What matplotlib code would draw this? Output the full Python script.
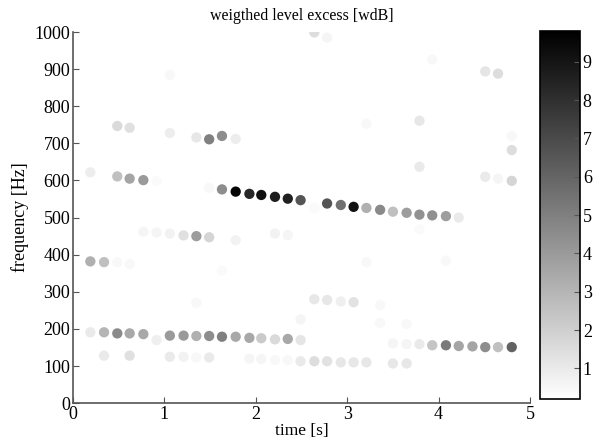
import numpy as np
import matplotlib
matplotlib.use("Agg")
import matplotlib.pyplot as plt

plt.rcParams['font.family'] = ['Liberation Serif', 'DejaVu Serif']
plt.rcParams['font.size'] = 13

# time [s], frequency [Hz], weighted level excess [wdB]
t = [1.06, 0.485, 0.62, 1.06, 1.35, 1.49, 1.63,
     0.19, 0.485, 0.62, 0.77, 0.915, 1.49, 1.63,
     2.64, 2.78, 3.21, 1.78,
     1.78, 1.93, 2.06, 2.21, 2.35, 2.49, 2.64, 2.78, 2.93, 3.07, 3.21, 3.36,
     3.50, 3.65, 3.79, 3.93, 4.08, 4.22,
     3.93, 4.51, 4.65, 3.79, 4.80, 4.80, 3.79, 4.51, 4.65, 4.80,
     0.77, 0.915, 1.06, 1.21, 1.35, 1.49, 1.78, 2.21, 2.35, 3.79,
     0.19, 0.34, 0.485, 0.62, 1.63, 3.21, 4.08,
     1.35, 2.64, 2.78, 2.93, 3.07, 3.36, 2.49, 3.36, 3.65,
     0.19, 0.34, 0.485, 0.62, 0.77, 0.915, 1.06, 1.21, 1.35, 1.49, 1.63,
     1.78, 1.93, 2.06, 2.21, 2.35, 2.49,
     3.50, 3.65, 3.79, 3.93, 4.08, 4.22, 4.37, 4.51, 4.65, 4.80,
     0.34, 0.62, 1.06, 1.21, 1.35, 1.49,
     1.93, 2.06, 2.21, 2.35, 2.49, 2.64, 2.78, 2.93, 3.07, 3.21, 3.50, 3.65]
f = [884, 747, 742, 728, 716, 711, 720,
     622, 611, 605, 601, 599, 580, 576,
     999, 985, 753, 712,
     570, 564, 561, 556, 551, 547, 526, 538, 534, 529, 526, 521,
     516, 513, 508, 506, 504, 500,
     926, 894, 888, 761, 720, 682, 637, 610, 605, 599,
     462, 460, 457, 452, 450, 447, 439, 457, 453, 468,
     382, 380, 380, 375, 357, 380, 384,
     270, 280, 278, 274, 272, 264, 226, 216, 213,
     191, 191, 188, 188, 186, 170, 182, 182, 181, 181, 179,
     179, 176, 175, 172, 173, 170,
     161, 159, 159, 156, 156, 154, 153, 151, 151, 151,
     128, 128, 125, 125, 123, 123,
     120, 119, 116, 116, 113, 113, 113, 110, 110, 110, 107, 107]
v = [0.5, 1.6, 1.4, 0.9, 1.1, 5.0, 4.5,
     0.9, 2.6, 3.6, 4.0, 0.4, 0.5, 4.5,
     1.5, 0.6, 0.5, 0.9,
     9.6, 8.3, 9.2, 8.7, 8.6, 6.6, 0.4, 6.6, 5.6, 9.1, 3.2, 4.6,
     2.6, 3.9, 4.3, 4.4, 3.9, 1.0,
     0.5, 1.2, 1.5, 1.1, 0.5, 1.5, 1.0, 1.0, 0.6, 1.8,
     0.6, 0.6, 0.7, 1.4, 3.9, 1.8, 0.7, 0.7, 0.6, 0.4,
     3.2, 2.6, 0.5, 0.5, 0.4, 0.5, 0.5,
     0.5, 1.1, 1.1, 0.8, 1.3, 0.5, 0.6, 0.5, 0.5,
     1.0, 3.0, 4.6, 3.5, 3.5, 0.8, 4.0, 4.0, 3.2, 4.5, 5.0,
     3.5, 3.5, 2.2, 1.6, 3.5, 1.2,
     0.6, 0.6, 1.0, 2.4, 5.2, 3.6, 3.6, 4.5, 2.6, 6.1,
     1.0, 1.4, 1.0, 0.7, 0.5, 1.0,
     0.6, 0.6, 0.5, 0.5, 1.0, 1.5, 1.3, 1.1, 1.1, 1.1, 1.1, 1.1]

axis_col = '#555555'

fig = plt.figure(figsize=(6.03, 4.45), dpi=100)
ax = fig.add_axes([0.121, 0.094, 0.758, 0.834])
sc = ax.scatter(t, f, c=v, cmap='gray_r', vmin=0.2, vmax=9.8, s=55,
                edgecolors='none')
ax.set_xlim(0, 5)
ax.set_ylim(0, 1000)
ax.set_xticks(np.arange(0, 6, 1))
ax.set_yticks(np.arange(0, 1001, 100))
ax.tick_params(direction='in', length=4, pad=2, color=axis_col,
               labelcolor='black')
ax.spines['top'].set_visible(False)
ax.spines['right'].set_visible(False)
for s in ['left', 'bottom']:
    ax.spines[s].set_color(axis_col)
    ax.spines[s].set_linewidth(1.2)
ax.set_xlabel("time [s]", fontsize=12.5, labelpad=0)
ax.set_ylabel("frequency [Hz]", fontsize=13, labelpad=4)
ax.set_title("weigthed level excess [wdB]", fontsize=11.5, pad=9)

cax = fig.add_axes([0.896, 0.103, 0.066, 0.827])
cb = fig.colorbar(sc, cax=cax)
cb.set_ticks(np.arange(1, 10))
cax.tick_params(direction='in', length=4, pad=2, color=axis_col)
cb.outline.set_linewidth(1.2)

fig.savefig("out.png", dpi=100)
